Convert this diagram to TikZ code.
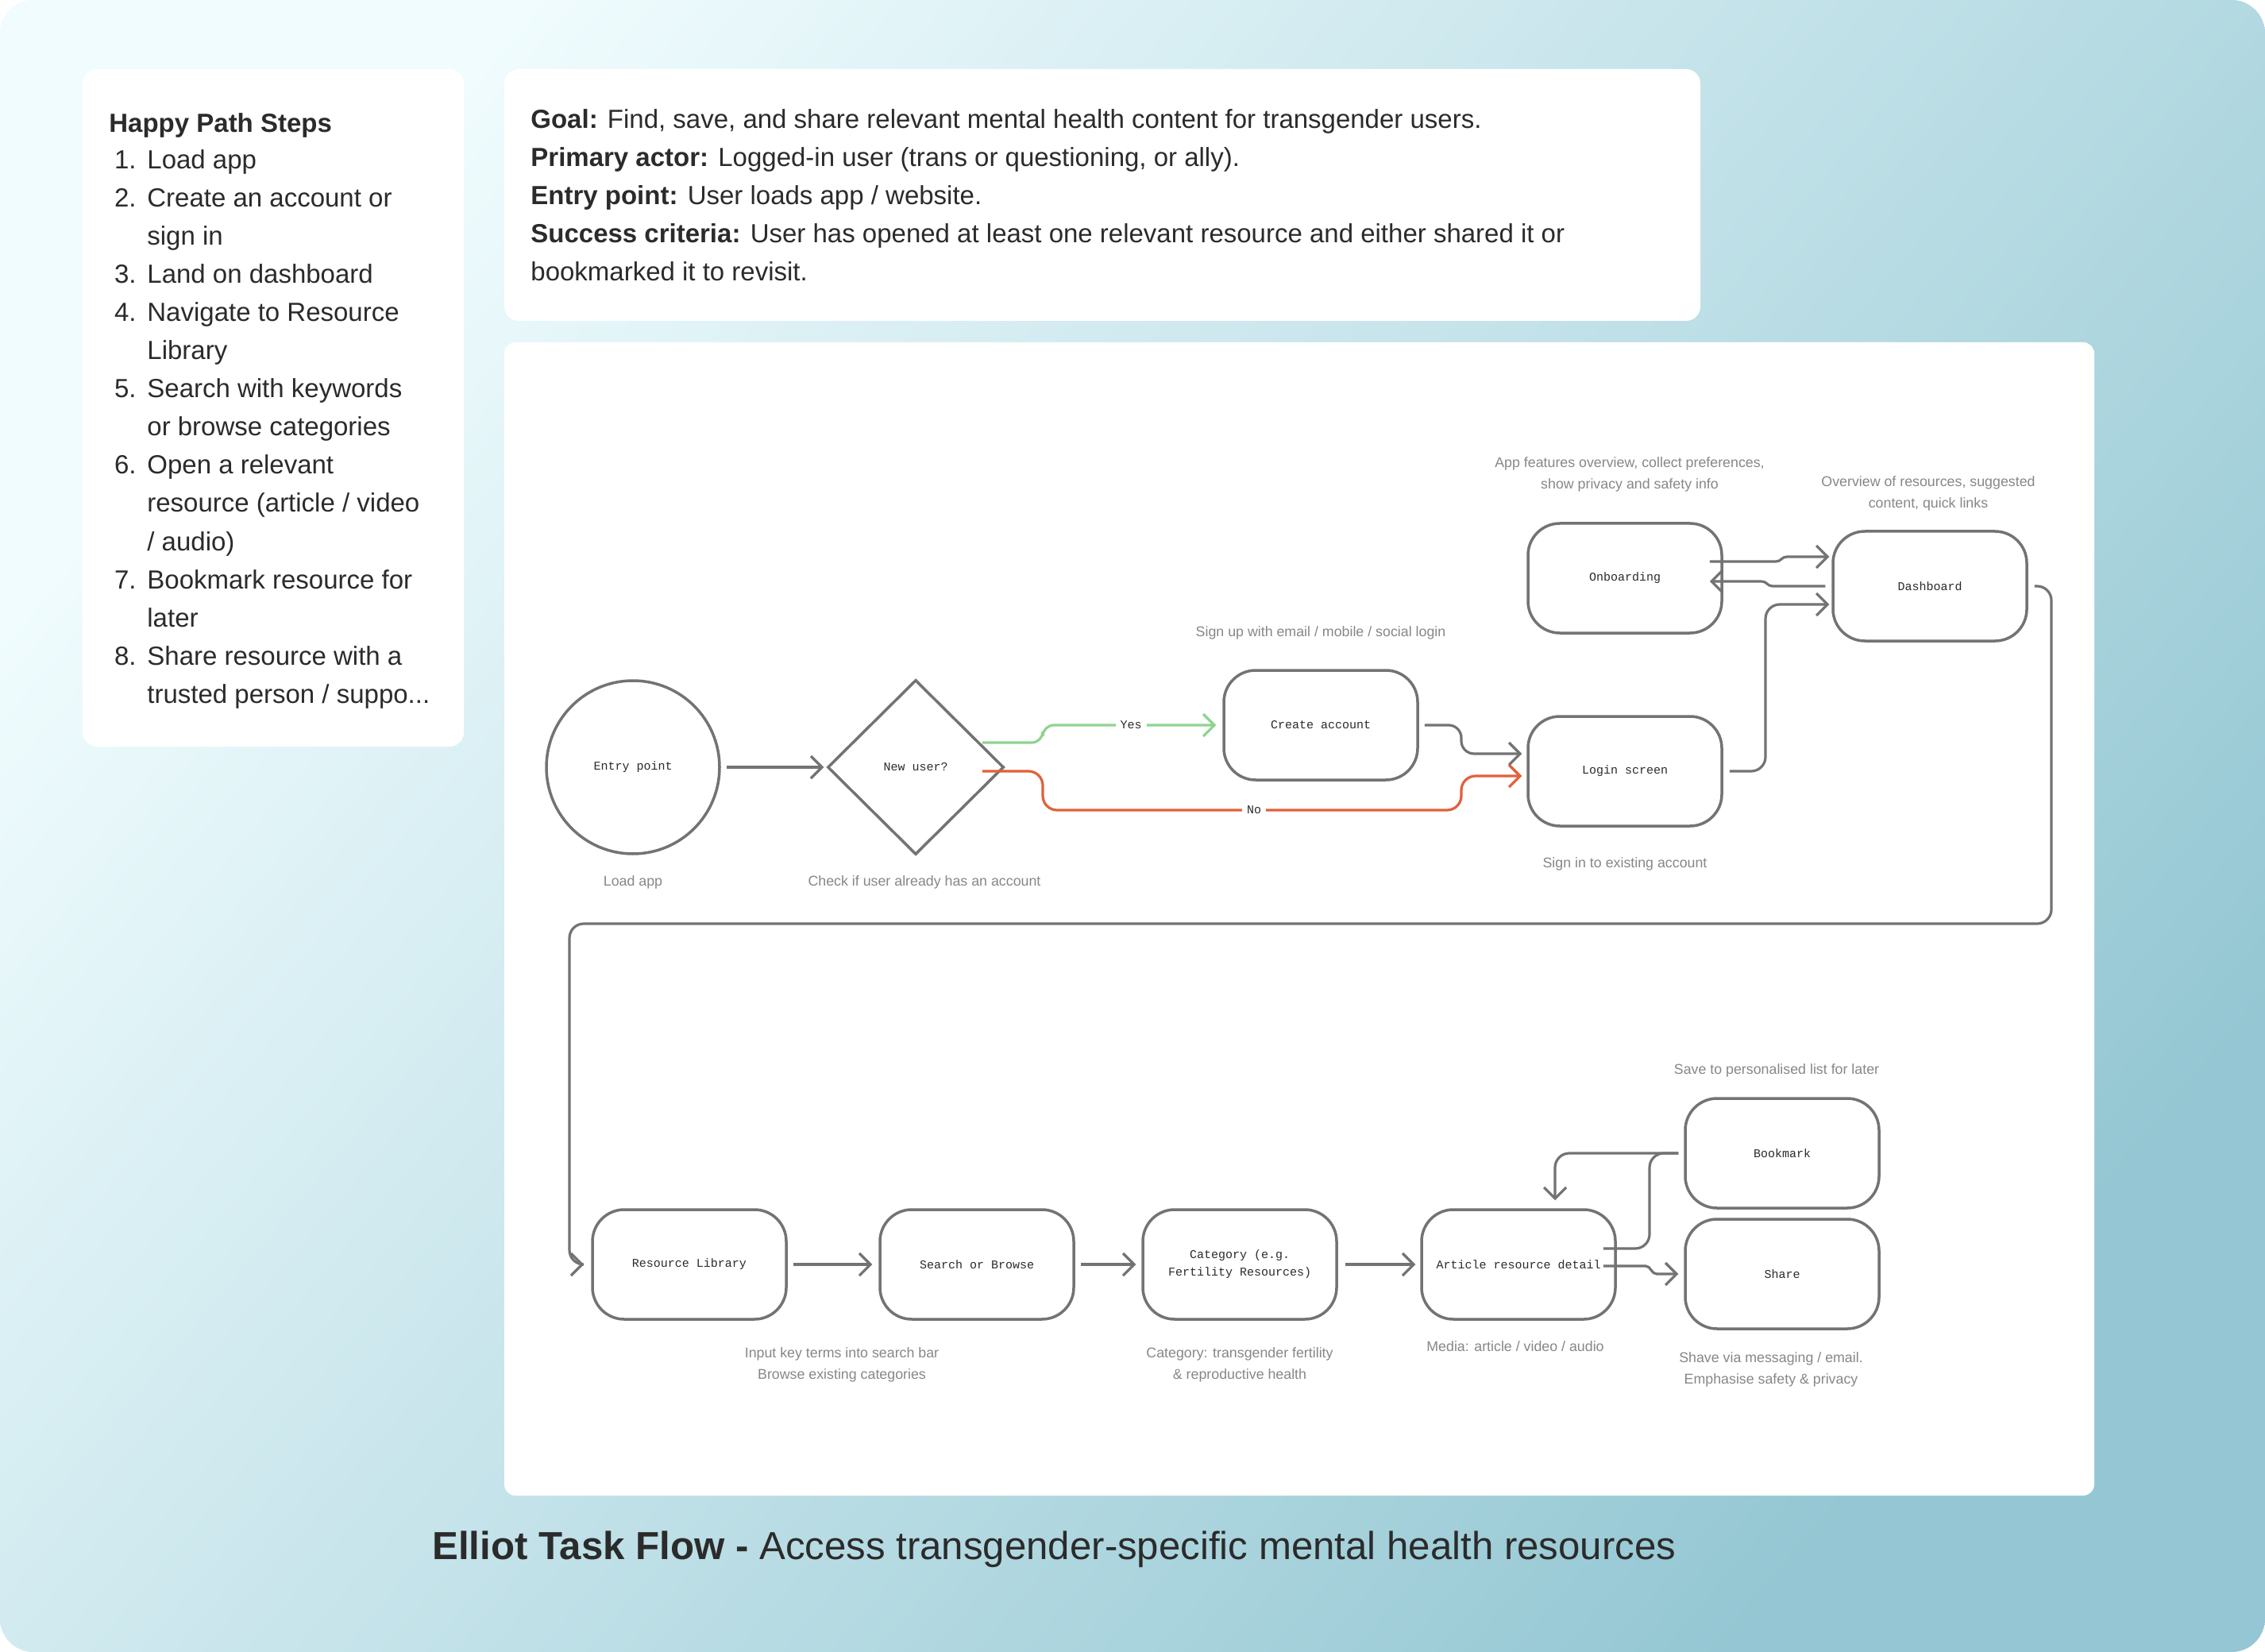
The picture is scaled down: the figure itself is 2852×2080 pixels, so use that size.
\documentclass[tikz,border=0pt]{standalone}
\usepackage{fontspec}
\setmainfont{Liberation Sans}
\setmonofont{Liberation Mono}
\usetikzlibrary{shapes.geometric,arrows.meta,calc}

\definecolor{bgA}{HTML}{F0FCFE}
\definecolor{bgB}{HTML}{94C7D3}
\definecolor{edgec}{HTML}{737373}
\definecolor{txtc}{HTML}{2B2B2B}
\definecolor{notec}{HTML}{878787}
\definecolor{yesc}{HTML}{8FD48F}
\definecolor{noc}{HTML}{E2603A}

\begin{document}
\begin{tikzpicture}[x=0.5pt,y=-0.5pt,
  box/.style={draw=edgec, line width=1.75pt, rounded corners=20pt, minimum width=122pt, minimum height=69pt, fill=white, font=\ttfamily\fontsize{7.5}{11}\selectfont, text=txtc, align=center, inner sep=0pt},
  note/.style={font=\fontsize{8.9}{13.5}\selectfont, text=notec, align=center, inner sep=0pt},
  item/.style={font=\fontsize{16.5}{24}\selectfont, text=txtc, inner sep=0pt},
  conn/.style={draw=edgec, line width=1.6pt, -{Straight Barb[length=7pt,width=14pt]}},
  plain/.style={draw=edgec, line width=1.6pt},
  yesl/.style={conn, draw=yesc},
  nol/.style={conn, draw=noc},
  flab/.style={font=\ttfamily\fontsize{7.5}{11}\selectfont, text=txtc, fill=white, inner sep=3pt}
]
% background
\useasboundingbox (0,0) rectangle (2852,2080);
\fill[white] (0,0) rectangle (2852,2080);
\shade[rounded corners=21pt, left color=bgA, right color=bgB, shading angle=50] (0,0) rectangle (2852,2080);

% panels
\fill[white, rounded corners=9pt] (104,87) rectangle (584,940);
\fill[white, rounded corners=9pt] (635,87) rectangle (2141,404);
\fill[white, rounded corners=7pt] (635,431) rectangle (2637,1883);

% happy path steps
\node[item, anchor=base west] (hp) at (137,167) {\bfseries Happy Path Steps};
\node[item, anchor=base east] (n1) at (172,213) {1.};
\node[item, anchor=base west] (t1) at (185,213) {Load app};
\node[item, anchor=base east] (n2) at (172,261) {2.};
\node[item, anchor=base west] (t2) at (185,261) {Create an account or};
\node[item, anchor=base west] (t2b) at (185,309) {sign in};
\node[item, anchor=base east] (n3) at (172,357) {3.};
\node[item, anchor=base west] (t3) at (185,357) {Land on dashboard};
\node[item, anchor=base east] (n4) at (172,405) {4.};
\node[item, anchor=base west] (t4) at (185,405) {Navigate to Resource};
\node[item, anchor=base west] (t4b) at (185,453) {Library};
\node[item, anchor=base east] (n5) at (172,501) {5.};
\node[item, anchor=base west] (t5) at (185,501) {Search with keywords};
\node[item, anchor=base west] (t5b) at (185,549) {or browse categories};
\node[item, anchor=base east] (n6) at (172,597) {6.};
\node[item, anchor=base west] (t6) at (185,597) {Open a relevant};
\node[item, anchor=base west] (t6b) at (185,645) {resource (article / video};
\node[item, anchor=base west] (t6c) at (185,693) {/ audio)};
\node[item, anchor=base east] (n7) at (172,741) {7.};
\node[item, anchor=base west] (t7) at (185,741) {Bookmark resource for};
\node[item, anchor=base west] (t7b) at (185,789) {later};
\node[item, anchor=base east] (n8) at (172,837) {8.};
\node[item, anchor=base west] (t8) at (185,837) {Share resource with a};
\node[item, anchor=base west] (t8b) at (185,885) {trusted person / suppo...};

% goal panel
\node[item, anchor=base west] (g1) at (668,162) {\textbf{Goal:} Find, save, and share relevant mental health content for transgender users.};
\node[item, anchor=base west] (g2) at (668,210) {\textbf{Primary actor:} Logged-in user (trans or questioning, or ally).};
\node[item, anchor=base west] (g3) at (668,258) {\textbf{Entry point:} User loads app / website.};
\node[item, anchor=base west] (g4) at (668,306) {\textbf{Success criteria:} User has opened at least one relevant resource and either shared it or};
\node[item, anchor=base west] (g5) at (668,354) {bookmarked it to revisit.};

% title
\node[anchor=base west, inner sep=0pt, text=txtc, font=\fontsize{24.6}{30}\selectfont] (title) at (544,1963) {\textbf{Elliot Task Flow -} Access transgender-specific mental health resources};

% nodes
\node[box, circle, minimum size=109pt, rounded corners=0pt] (entry) at (797,966) {Entry point};
\node[box, diamond, minimum width=111pt, minimum height=110pt, rounded corners=0pt] (newu) at (1153,966) {New user?};
\node[box] (create) at (1663,913) {Create account};
\node[box] (login) at (2046,971) {Login screen};
\node[box] (onb) at (2046,728) {Onboarding};
\node[box] (dash) at (2430,738) {Dashboard};
\node[box] (reslib) at (868,1592) {Resource Library};
\node[box] (search) at (1230,1592) {Search or Browse};
\node[box] (cat) at (1561,1592) {Category (e.g.\\Fertility Resources)};
\node[box] (art) at (1912,1592) {Article resource detail};
\node[box] (book) at (2244,1452) {Bookmark};
\node[box] (share) at (2244,1604) {Share};

% notes
\node[note] (l1) at (797,1111) {Load app};
\node[note] (l2) at (1164,1111) {Check if user already has an account};
\node[note] (l3) at (1663,797) {Sign up with email / mobile / social login};
\node[note] (l4) at (2046,1088) {Sign in to existing account};
\node[note] (l5) at (2052,597) {App features overview, collect preferences,\\show privacy and safety info};
\node[note] (l6) at (2428,621) {Overview of resources, suggested\\content, quick links};
\node[note] (l7) at (1060,1718) {Input key terms into search bar\\Browse existing categories};
\node[note] (l8) at (1561,1718) {Category: transgender fertility\\\& reproductive health};
\node[note] (l9) at (1908,1695) {Media: article / video / audio};
\node[note] (l10) at (2230,1724) {Shave via messaging / email.\\Emphasise safety \& privacy};
\node[note] (l11) at (2237,1348) {Save to personalised list for later};

% connectors
\draw[conn] ($(entry.east)+(7,0)$) -- ($(newu.west)+(-3,0)$);
\draw[yesl, rounded corners=7pt] ($(newu.east)+(-29,-31)$) -- (1313,935) -- (1313,913) -- ($(create.west)+(-8,0)$);
\node[flab] (yes) at (1424,913) {Yes};
\draw[nol, rounded corners=9pt] ($(newu.east)+(-29,5)$) -- (1313,971) -- (1313,1020) -- (1840,1020) -- (1840,977) -- ($(login.west)+(-6,6)$);
\node[flab] (no) at (1579,1020) {No};
\draw[conn, rounded corners=8pt] ($(create.east)+(7,0)$) -- (1840,913) -- (1840,949) -- ($(login.west)+(-6,-22)$);
\draw[conn, rounded corners=9pt] ($(login.east)+(8,0)$) -- (2223,971) -- (2223,761) -- ($(dash.west)+(-3,23)$);
\draw[conn] ($(onb.east)+(-17,-21)$) -- (2236,707) .. controls (2243,707) and (2243,701) .. (2250,701) -- ($(dash.west)+(-3,-37)$);
\draw[conn] ($(dash.west)+(-8,0)$) -- (2232,738) .. controls (2225,738) and (2225,732) .. (2218,732) -- ($(onb.east)+(-17,4)$);
\draw[conn, rounded corners=9pt] ($(dash.east)+(8,0)$) -- (2583,738) -- (2583,1163) -- (717,1163) -- (717,1592) -- ($(reslib.west)+(-9,0)$);
\draw[conn] ($(reslib.east)+(7,0)$) -- ($(search.west)+(-8,0)$);
\draw[conn] ($(search.east)+(7,0)$) -- ($(cat.west)+(-7,0)$);
\draw[conn] ($(cat.east)+(9,0)$) -- ($(art.west)+(-6,0)$);
\draw[conn] ($(art.east)+(-17,2)$) -- (2072,1594) .. controls (2079,1594) and (2079,1604) .. (2086,1604) -- ($(share.west)+(-7,0)$);
\draw[plain, rounded corners=9pt] ($(art.east)+(-17,-20)$) -- (2077,1572) -- (2077,1452) -- ($(book.west)+(-7,0)$);
\draw[conn, rounded corners=9pt] ($(book.west)+(-7,0)$) -- (1958,1452) -- ($(art.north)+(46,-10)$);
\end{tikzpicture}
\end{document}
